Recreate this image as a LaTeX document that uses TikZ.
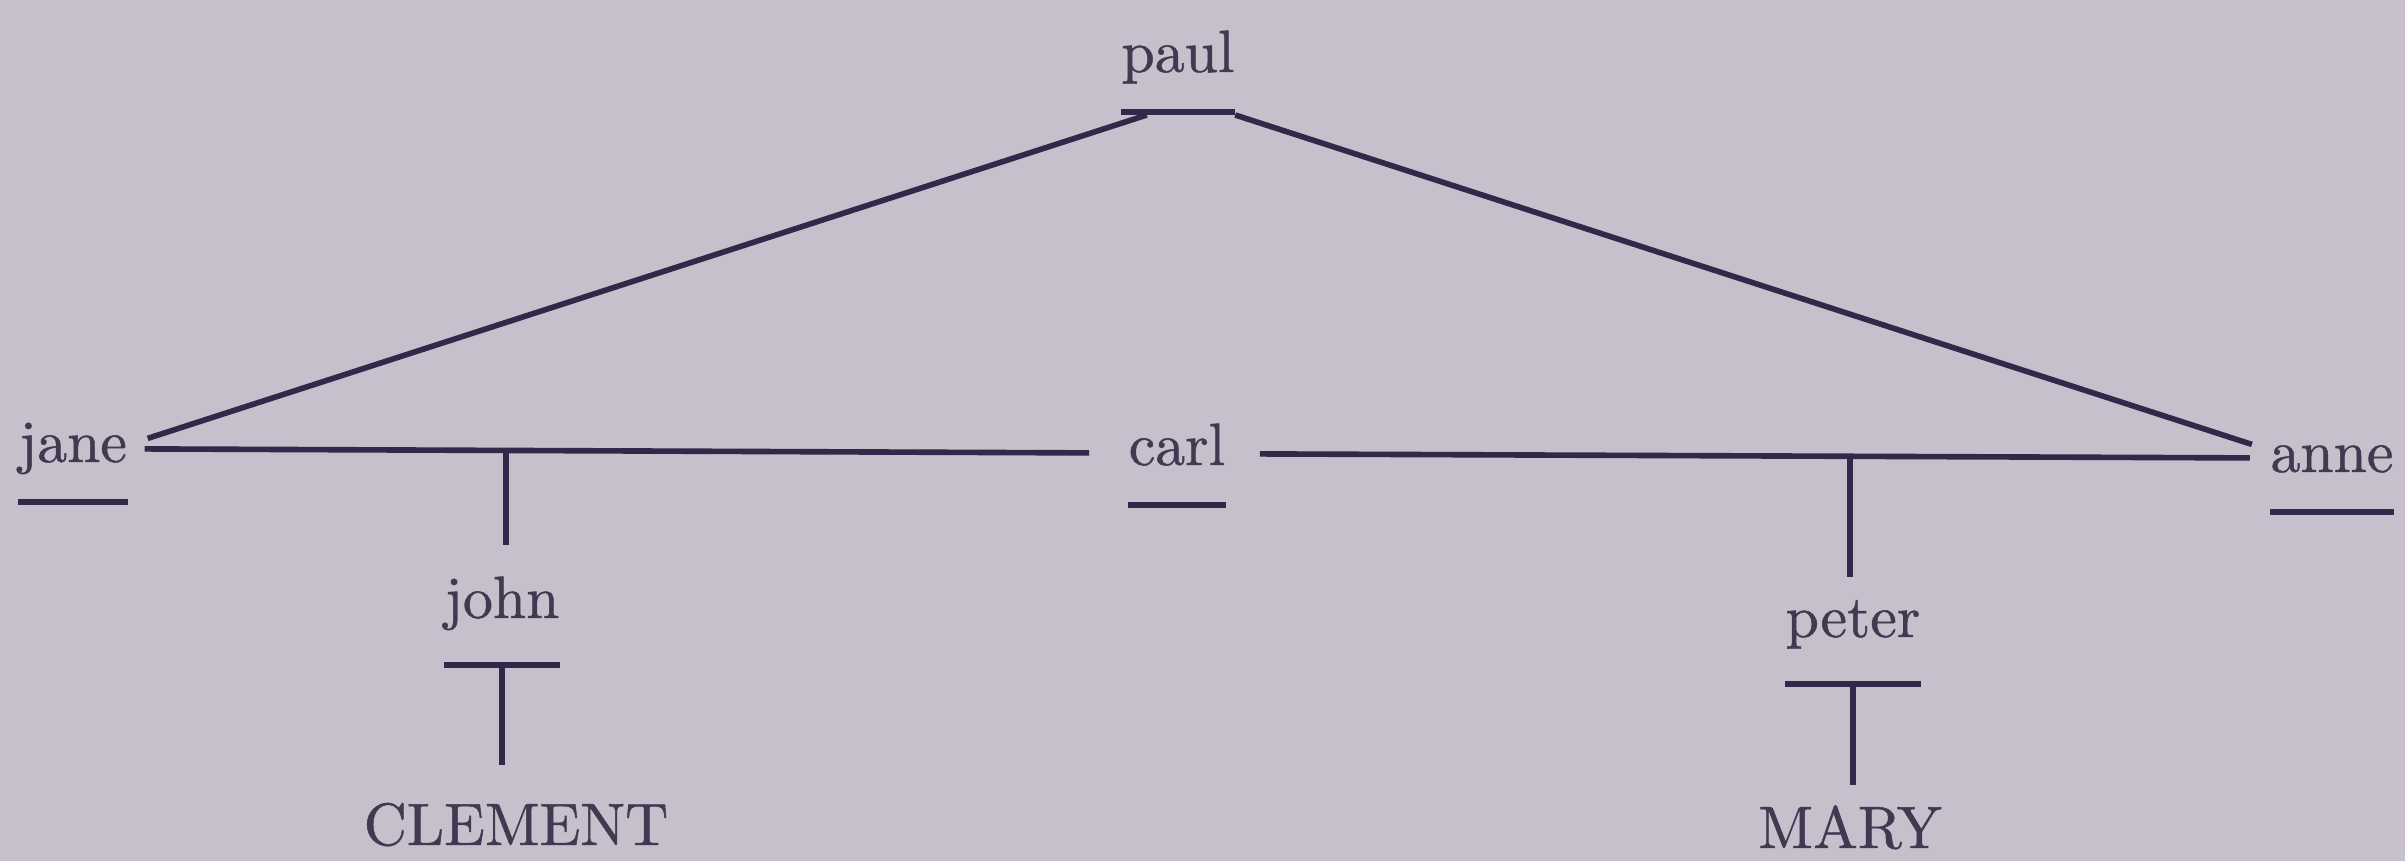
\documentclass[tikz,border=0pt]{standalone}
\usepackage{xcolor}
\usepackage{fontspec}
\usepackage{tikz}
\usetikzlibrary{calc}
\newfontfamily\nmfont{lmroman10-regular.otf}[FakeBold=0.8]
\definecolor{paperBg}{RGB}{199,191,203}
\definecolor{inkLine}{RGB}{52,40,74}
\definecolor{inkText}{RGB}{66,56,82}

\begin{document}
\begin{tikzpicture}[
        nm/.style={inner sep=0pt,anchor=base,text=inkText,
                   font=\nmfont\fontsize{17}{20}\selectfont},
        ed/.style={draw=inkLine,line width=1.6pt},
        br/.style={draw=inkLine,line width=1.6pt}]

  \fill[paperBg] (0,0) rectangle (24.05,8.61);
  \useasboundingbox (0,0) rectangle (24.05,8.61);

  \node[nm] (paul)  at (11.78,7.89) {paul};
  \node[nm] (jane)  at (0.73,3.99)  {jane};
  \node[nm] (carl)  at (11.77,3.96) {carl};
  \node[nm] (anne)  at (23.32,3.89) {anne};
  \node[nm] (john)  at (5.02,2.43)  {john};
  \node[nm] (peter) at (18.53,2.24) {peter};
  \node[nm] (clem)  at (5.16,0.16)  {CLEMENT};
  \node[nm] (mary)  at (18.50,0.13) {MARY};

  % bars under the names
  \foreach \n/\d in {paul/4mm,jane/4mm,carl/4mm,anne/4mm,john/4.7mm,peter/4.7mm}{
    \coordinate (\n-l) at ([yshift=-\d]\n.base west);
    \coordinate (\n-r) at ([yshift=-\d]\n.base east);
    \coordinate (\n-m) at ($(\n-l)!.5!(\n-r)$);
    \draw[br] (\n-l) -- (\n-r);
  }

  % the two lines out of paul
  \draw[ed] ([xshift=2mm,yshift=1.6mm]jane.mid east)
            -- ([xshift=2.6mm,yshift=-.3mm]paul-l);
  \draw[ed] ([yshift=-.3mm]paul-r)
            -- ([xshift=-1.8mm,yshift=2mm]anne.mid west);

  % the row jane -- carl -- anne
  \draw[ed] ([xshift=1.7mm,yshift=.55mm]jane.mid east)
            -- ([xshift=-3.9mm,yshift=.45mm]carl.mid west);
  \draw[ed] ([xshift=3.4mm,yshift=.35mm]carl.mid east)
            -- ([xshift=-2mm,yshift=.65mm]anne.mid west);

  % stems down from the row
  \draw[ed] ($(john.north |- jane.mid east)+(.04,.05)$)
            -- ($(john.north)+(.04,.31)$);
  \draw[ed] ($(peter.north |- anne.mid west)+(-.03,.08)$)
            -- ($(peter.north)+(-.03,.23)$);

  % stems down from the bars
  \draw[ed] (john-m) -- ($(john-m |- clem.north)+(0,.37)$);
  \draw[ed] (peter-m) -- ($(peter-m |- mary.north)+(0,.2)$);
\end{tikzpicture}
\end{document}
